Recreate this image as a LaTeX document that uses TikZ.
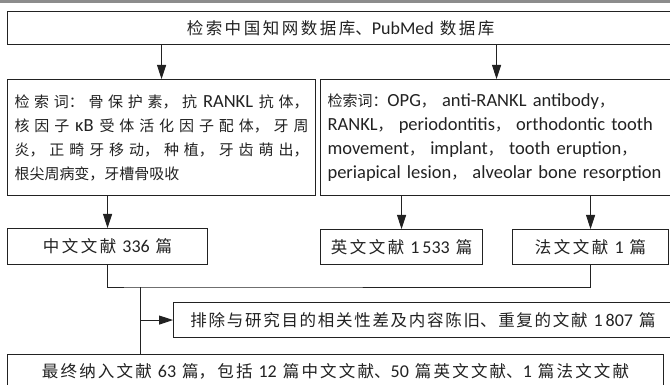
\documentclass[tikz,border=0pt]{standalone}
\usepackage{fontspec}
\setmainfont{Carlito}
\newfontfamily\zhbig{Noto Sans CJK SC}[Scale=0.917]
\newfontfamily\zhsmall{Noto Sans CJK SC}[Scale=0.81]
\let\zhfont\zhbig
\newcommand\zh[1]{{\zhfont #1}}
\XeTeXlinebreaklocale "zh"
\usetikzlibrary{arrows.meta}
\definecolor{ink}{HTML}{222222}
\tikzset{
  boxnode/.style={draw=ink, line width=1.1pt, text=ink, inner sep=0pt, anchor=north west},
  lbl/.style={boxnode, align=center,
    font={\fontsize{18}{20}\selectfont\XeTeXlinebreakskip=2.5pt\relax}},
  kw/.style={boxnode, inner xsep=7pt,
    font={\fontsize{18.5}{24}\selectfont\let\zhfont\zhsmall\XeTeXlinebreakskip=0pt plus 6pt\relax}},
  conn/.style={draw=ink, line width=0.9pt},
  arr/.style={conn, -{Triangle[length=14pt,width=9pt]}}
}
\begin{document}
\begin{tikzpicture}[x=1pt,y=1pt]
\clip (0,0) rectangle (670,-385);
\fill[white] (0,0) rectangle (670,-385);
\draw[color=black!45, line width=2.5pt] (0,-1.3) -- (670,-1.3);

\node[lbl, minimum width=666pt, text width=666pt, minimum height=33pt] (src) at (7,-11)
  {\zh{检索中国知网数据库、}PubMed \zh{数据库}};

\node[kw, minimum width=308pt, minimum height=116pt, text width=294pt, align=justify] (kwzh) at (7,-79)
  {\zh{检索词：骨保护素，抗} RANKL \zh{抗体，}\linebreak
   \zh{核因子} κB \zh{受体活化因子配体，牙周}\linebreak
   \zh{炎，正畸牙移动，种植，牙齿萌出，}\linebreak
   \zh{根尖周病变，牙槽骨吸收}};

\node[kw, minimum width=352pt, minimum height=116pt, text width=338pt, align=left] (kwen) at (320,-79)
  {\mbox{\zh{检索词：}OPG\zh{，} anti-RANKL antibody\zh{，}}\\
   \mbox{RANKL\zh{，} periodontitis\zh{，} orthodontic tooth}\\
   \mbox{movement\zh{，} implant\zh{，} tooth eruption\zh{，}}\\
   \mbox{periapical lesion\zh{，} alveolar bone resorption}};

\node[lbl, minimum width=200pt, text width=200pt, minimum height=36pt] (cn) at (7,-228) {\zh{中文文献} 336 \zh{篇}};
\node[lbl, minimum width=162pt, text width=162pt, minimum height=35pt] (en) at (320,-229) {\zh{英文文献} 1\,533 \zh{篇}};
\node[lbl, minimum width=156pt, text width=156pt, minimum height=35pt] (fr) at (512,-229) {\zh{法文文献} 1 \zh{篇}};

\node[lbl, minimum width=499pt, text width=499pt, minimum height=35pt,
  font={\fontsize{18}{20}\selectfont\XeTeXlinebreakskip=1.7pt\relax}] (excl) at (173,-302)
  {\zh{排除与研究目的相关性差及内容陈旧、重复的文献} 1\,807 \zh{篇}};

\node[lbl, minimum width=656pt, text width=656pt, minimum height=34pt,
  font={\fontsize{18}{20}\selectfont\XeTeXlinebreakskip=2.2pt\relax}] (final) at (7,-354)
  {\zh{最终纳入文献} 63 \zh{篇，包括} 12 \zh{篇中文文献、}50 \zh{篇英文文献、}1 \zh{篇法文文献}};

\draw[arr] (src.south -| kwzh.north) -- (kwzh.north);
\draw[arr] (src.south -| kwen.north) -- (kwen.north);
\draw[arr] (kwzh.south -| cn.north) -- (cn.north);
\draw[arr] (kwen.south -| en.north) -- (en.north);
\draw[arr] (kwen.south -| fr.north) -- (fr.north);

\coordinate (m) at (140,-287);
\draw[conn] (cn.south) |- (m) -| (fr.south);
\draw[conn] (m) -- (final.north -| m);
\draw[arr] (m |- excl.west) -- (excl.west);
\end{tikzpicture}
\end{document}
